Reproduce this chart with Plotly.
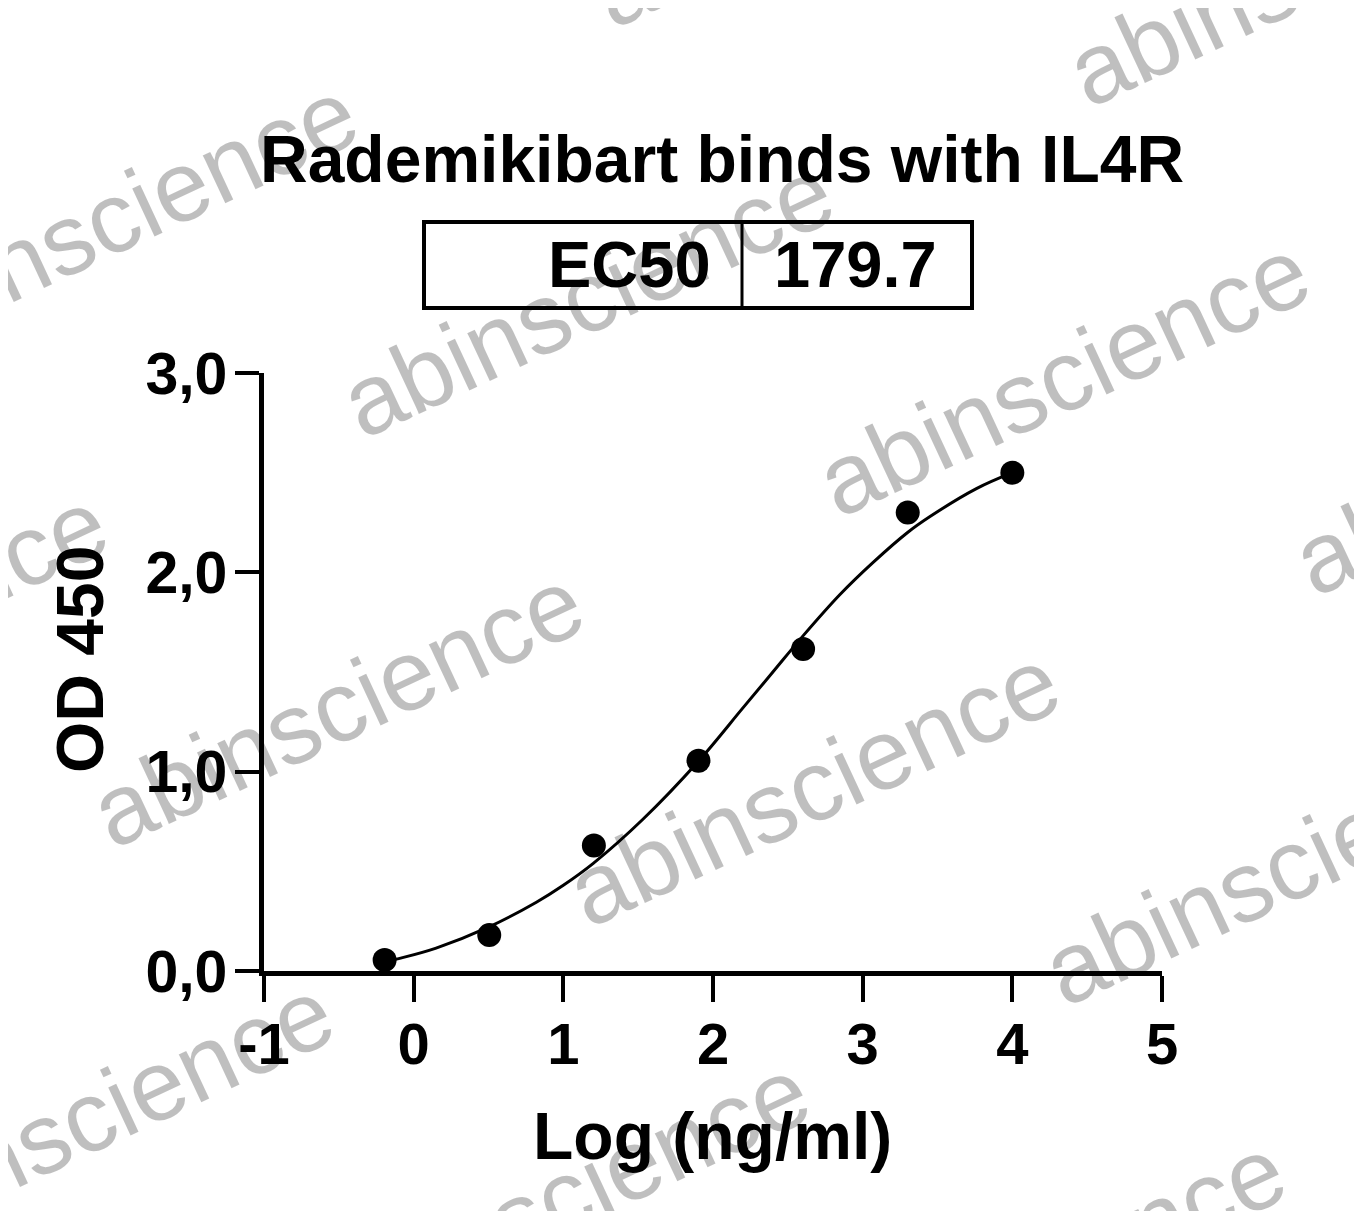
import plotly.graph_objects as go

# ---------------- data ----------------
log_conc = [-0.194, 0.505, 1.204, 1.903, 2.602, 3.301, 4.0]
od450 = [0.055, 0.18, 0.63, 1.055, 1.615, 2.30, 2.50]

# fitted curve
fit_x = [-0.194, -0.1, 0.15, 0.5, 0.82, 1.0, 1.2, 1.53, 1.9, 2.2, 2.4, 2.6,
         2.85, 3.07, 3.3, 3.45, 3.76, 4.0]
fit_y = [0.045, 0.062, 0.115, 0.22, 0.345, 0.43, 0.54, 0.76, 1.05, 1.32, 1.50, 1.68,
         1.89, 2.05, 2.20, 2.28, 2.42, 2.50]

x_tick_vals = [-1, 0, 1, 2, 3, 4, 5]
x_tick_labels = ["-1", "0", "1", "2", "3", "4", "5"]
y_tick_vals = [0, 1, 2, 3]
y_tick_labels = ["0,0", "1,0", "2,0", "3,0"]

title_text = "Rademikibart binds with IL4R"
ec50_label = "EC50"
ec50_value = "179.7"
x_title = "Log (ng/ml)"
y_title = "OD 450"
watermark_text = "abinscience"

# ---------------- layout constants ----------------
PAGE_OFF = 8            # default body margin of the html page
W, H = 1346, 1203
L, T = 256, 365
PW, PH = 898, 598
R, B = W - L - PW, H - T - PH
FONT = "Liberation Sans, Arial, Helvetica, sans-serif"


def px(x):
    """page pixel x -> paper coordinate"""
    return (x - PAGE_OFF - L) / PW


def py(y):
    """page pixel y -> paper coordinate"""
    return (PAGE_OFF + T + PH - y) / PH


fig = go.Figure()

fig.add_trace(go.Scatter(
    x=fit_x, y=fit_y, mode="lines",
    line=dict(color="black", width=3, shape="spline", smoothing=1.0),
    hoverinfo="skip", showlegend=False, cliponaxis=False,
))
fig.add_trace(go.Scatter(
    x=log_conc, y=od450, mode="markers",
    marker=dict(color="black", size=24, symbol="circle"),
    showlegend=False, cliponaxis=False,
))

annotations = []

# watermarks (translucent black keeps black marks black, white turns light grey)
wm_centers = [(587, 297), (1063, 376), (1539, 455), (111, 218),
              (337, 707), (813, 786), (1289, 865), (-139, 628),
              (87, 1117), (563, 1196), (1039, 1275), (837, -113), (1313, -34)]
for cx, cy in wm_centers:
    annotations.append(dict(
        x=px(cx), y=py(cy), xref="paper", yref="paper",
        text=watermark_text, showarrow=False, textangle=-25,
        xanchor="center", yanchor="middle",
        font=dict(family=FONT, size=100, color="rgba(0,0,0,0.25)"),
    ))

bold = dict(family=FONT, color="black", weight="bold")

annotations.append(dict(
    x=px(722), y=py(159), xref="paper", yref="paper", text=title_text,
    showarrow=False, xanchor="center", yanchor="middle",
    font=dict(bold, size=66)))
annotations.append(dict(
    x=px(713), y=py(265), xref="paper", yref="paper", text=ec50_label,
    showarrow=False, xanchor="right", yanchor="middle",
    font=dict(bold, size=65)))
annotations.append(dict(
    x=px(772), y=py(265), xref="paper", yref="paper", text=ec50_value,
    showarrow=False, xanchor="left", yanchor="middle",
    font=dict(bold, size=65)))
annotations.append(dict(
    x=px(712), y=py(1136), xref="paper", yref="paper", text=x_title,
    showarrow=False, xanchor="center", yanchor="middle",
    font=dict(bold, size=66)))
annotations.append(dict(
    x=px(80), y=py(660), xref="paper", yref="paper", text=y_title,
    showarrow=False, xanchor="center", yanchor="middle", textangle=-90,
    font=dict(bold, size=66)))

shapes = [
    dict(type="rect", xref="paper", yref="paper",
         x0=px(424), x1=px(972), y0=py(222), y1=py(308),
         line=dict(color="black", width=4), fillcolor="rgba(0,0,0,0)"),
    dict(type="line", xref="paper", yref="paper",
         x0=px(742), x1=px(742), y0=py(222), y1=py(308),
         line=dict(color="black", width=3)),
]

fig.update_layout(
    width=W, height=H,
    margin=dict(l=L, r=R, t=T, b=B, autoexpand=False),
    paper_bgcolor="white", plot_bgcolor="white",
    showlegend=False,
    annotations=annotations, shapes=shapes,
    xaxis=dict(
        range=[-1, 5], tickvals=x_tick_vals, ticktext=x_tick_labels,
        showgrid=False, zeroline=False, showline=True, linecolor="black",
        linewidth=4.5, ticks="outside", ticklen=26, tickwidth=4, tickcolor="black",
        tickfont=dict(family=FONT, size=58, color="black", weight="bold"),
        ticklabelstandoff=-7, fixedrange=True,
    ),
    yaxis=dict(
        range=[0, 3], tickvals=y_tick_vals, ticktext=y_tick_labels,
        showgrid=False, zeroline=False, showline=True, linecolor="black",
        linewidth=4.5, ticks="outside", ticklen=24, tickwidth=4, tickcolor="black",
        tickfont=dict(family=FONT, size=59, color="black", weight="bold"),
        ticklabelstandoff=-4, fixedrange=True,
    ),
)

fig.write_html("out.html", config={"displayModeBar": False})
